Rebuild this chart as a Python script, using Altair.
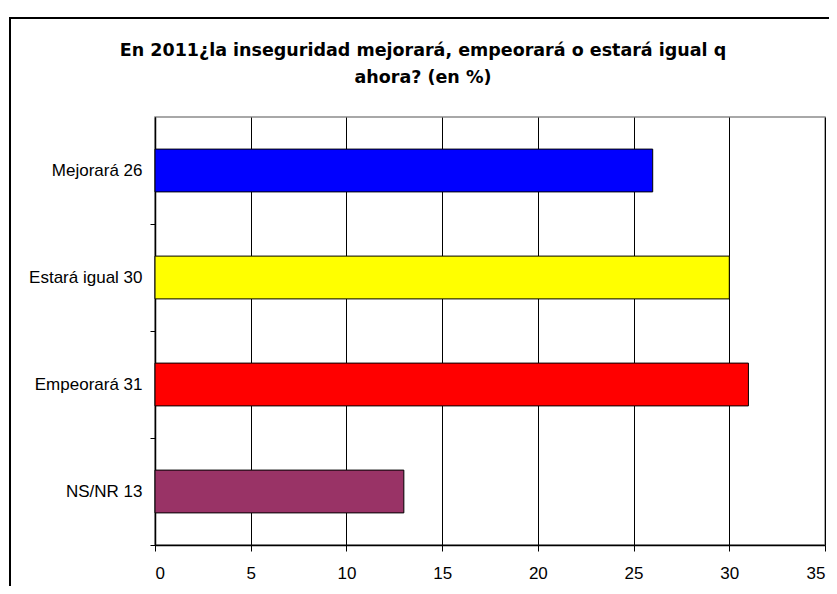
import altair as alt
import pandas as pd

categories = ["Mejorará", "Estará igual", "Empeorará", "NS/NR"]
values = [26, 30, 31, 13]
colors = ["#0000FF", "#FFFF00", "#FF0000", "#993366"]
x_ticks = [0, 5, 10, 15, 20, 25, 30, 35]
title_lines = ["En 2011¿la inseguridad mejorará, empeorará o estará igual q", "ahora? (en %)"]

labels = [f"{c} {v}" for c, v in zip(categories, values)]
df = pd.DataFrame({"label": labels, "value": values, "color": colors})

FONT = "Liberation Sans"
STEP_HALF = 53.5

bars = alt.Chart(df).mark_bar(stroke="black", strokeWidth=1).encode(
    x=alt.X(
        "value:Q",
        scale=alt.Scale(domain=[0, 35], nice=False),
        axis=alt.Axis(
            values=x_ticks, title=None, grid=True, gridColor="black", gridOpacity=1,
            gridWidth=1, domainColor="black", domainWidth=1.5, tickColor="black", tickSize=6,
            labelFontSize=17, labelFont=FONT, labelColor="black", labelPadding=14,
        ),
    ),
    y=alt.Y(
        "label:N", sort=labels,
        scale=alt.Scale(paddingInner=0.6, paddingOuter=0.3),
        axis=alt.Axis(
            title=None, domainColor="black", domainWidth=1.5,
            tickColor="black", tickSize=5, tickOffset=STEP_HALF, labelOffset=-STEP_HALF,
            labelFontSize=17, labelFont=FONT, labelColor="black", labelPadding=8,
        ),
    ),
    color=alt.Color("color:N", scale=None, legend=None),
)

frame = alt.Chart(pd.DataFrame({"a": [0]})).mark_rect(
    filled=False, stroke="black", strokeWidth=2
).encode(
    x=alt.value(-145), x2=alt.value(720), y=alt.value(-99), y2=alt.value(600)
)

title = alt.Chart(pd.DataFrame({"t": ["\n".join(title_lines)]})).mark_text(
    font="DejaVu Sans", fontSize=17.5, fontWeight="bold", align="center", baseline="top",
    lineBreak="\n", lineHeight=27, color="black",
).encode(text="t:N", x=alt.value(268), y=alt.value(-75))

chart = alt.layer(frame, bars, title).properties(
    width=670, height=428,
    padding={"left": 147, "top": 109, "right": 4, "bottom": 41},
    autosize="none",
    background="white",
).configure_view(stroke="#8c8c8c", strokeWidth=1.5)

chart.save("out.html", embed_options={"renderer": "svg", "actions": False})
